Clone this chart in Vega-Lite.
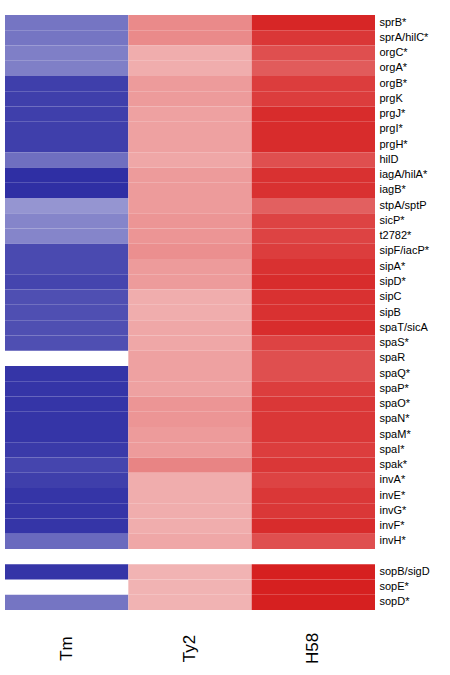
{
  "$schema": "https://vega.github.io/schema/vega-lite/v6.json",
  "width": 370,
  "height": 595,
  "autosize": "none",
  "padding": {"left": 5, "top": 15, "right": 75, "bottom": 65},
  "background": "white",
  "config": {"view": {"stroke": null}},
  "data": {
    "values": [
      {"gene": "sprB*", "Tm": -2.6, "Ty2": 2.0, "H58": 3.7},
      {"gene": "sprA/hilC*", "Tm": -2.6, "Ty2": 2.0, "H58": 3.4},
      {"gene": "orgC*", "Tm": -2.4, "Ty2": 1.4, "H58": 3.0},
      {"gene": "orgA*", "Tm": -2.4, "Ty2": 1.4, "H58": 2.8},
      {"gene": "orgB*", "Tm": -3.6, "Ty2": 1.7, "H58": 3.3},
      {"gene": "prgK", "Tm": -3.6, "Ty2": 1.7, "H58": 3.3},
      {"gene": "prgJ*", "Tm": -3.6, "Ty2": 1.6, "H58": 3.6},
      {"gene": "prgI*", "Tm": -3.6, "Ty2": 1.6, "H58": 3.6},
      {"gene": "prgH*", "Tm": -3.6, "Ty2": 1.6, "H58": 3.6},
      {"gene": "hilD", "Tm": -2.7, "Ty2": 1.5, "H58": 3.0},
      {"gene": "iagA/hilA*", "Tm": -3.9, "Ty2": 1.7, "H58": 3.5},
      {"gene": "iagB*", "Tm": -3.9, "Ty2": 1.7, "H58": 3.5},
      {"gene": "stpA/sptP", "Tm": -2.0, "Ty2": 1.7, "H58": 2.7},
      {"gene": "sicP*", "Tm": -2.3, "Ty2": 1.8, "H58": 3.2},
      {"gene": "t2782*", "Tm": -2.3, "Ty2": 1.8, "H58": 3.2},
      {"gene": "sipF/iacP*", "Tm": -3.4, "Ty2": 1.9, "H58": 3.3},
      {"gene": "sipA*", "Tm": -3.4, "Ty2": 1.7, "H58": 3.5},
      {"gene": "sipD*", "Tm": -3.5, "Ty2": 1.7, "H58": 3.6},
      {"gene": "sipC", "Tm": -3.3, "Ty2": 1.4, "H58": 3.5},
      {"gene": "sipB", "Tm": -3.3, "Ty2": 1.4, "H58": 3.5},
      {"gene": "spaT/sicA", "Tm": -3.3, "Ty2": 1.5, "H58": 3.6},
      {"gene": "spaS*", "Tm": -3.3, "Ty2": 1.5, "H58": 3.2},
      {"gene": "spaR", "Tm": null, "Ty2": 1.6, "H58": 3.0},
      {"gene": "spaQ*", "Tm": -3.8, "Ty2": 1.6, "H58": 3.0},
      {"gene": "spaP*", "Tm": -3.8, "Ty2": 1.6, "H58": 3.3},
      {"gene": "spaO*", "Tm": -3.8, "Ty2": 1.8, "H58": 3.4},
      {"gene": "spaN*", "Tm": -3.8, "Ty2": 1.8, "H58": 3.4},
      {"gene": "spaM*", "Tm": -3.8, "Ty2": 1.7, "H58": 3.4},
      {"gene": "spaI*", "Tm": -3.7, "Ty2": 1.7, "H58": 3.3},
      {"gene": "spak*", "Tm": -3.5, "Ty2": 2.1, "H58": 3.4},
      {"gene": "invA*", "Tm": -3.6, "Ty2": 1.4, "H58": 3.2},
      {"gene": "invE*", "Tm": -3.8, "Ty2": 1.4, "H58": 3.4},
      {"gene": "invG*", "Tm": -3.8, "Ty2": 1.4, "H58": 3.4},
      {"gene": "invF*", "Tm": -3.8, "Ty2": 1.4, "H58": 3.6},
      {"gene": "invH*", "Tm": -2.8, "Ty2": 1.5, "H58": 3.0},
      {"gene": "sopB/sigD", "Tm": -3.8, "Ty2": 1.3, "H58": 3.8},
      {"gene": "sopE*", "Tm": null, "Ty2": 1.3, "H58": 3.8},
      {"gene": "sopD*", "Tm": -2.6, "Ty2": 1.3, "H58": 3.8}
    ]
  },
  "transform": [
    {"fold": ["Tm", "Ty2", "H58"], "as": ["strain", "value"]},
    {"filter": "isValid(datum.value)"}
  ],
  "mark": {"type": "rect", "strokeWidth": 0, "stroke": null},
  "encoding": {
    "x": {
      "field": "strain",
      "type": "nominal",
      "sort": ["Tm", "Ty2", "H58"],
      "scale": {"paddingInner": 0, "paddingOuter": 0},
      "axis": {"title": null, "ticks": false, "domain": false, "labelAngle": -90, "labelFontSize": 17, "labelFont": "Liberation Sans", "labelColor": "black", "labelPadding": 38, "labelAlign": "center", "labelBaseline": "middle"}
    },
    "y": {
      "field": "gene",
      "type": "nominal",
      "scale": {
        "paddingInner": 0, "paddingOuter": 0,
        "domain": ["sprB*", "sprA/hilC*", "orgC*", "orgA*", "orgB*", "prgK", "prgJ*", "prgI*", "prgH*", "hilD", "iagA/hilA*", "iagB*", "stpA/sptP", "sicP*", "t2782*", "sipF/iacP*", "sipA*", "sipD*", "sipC", "sipB", "spaT/sicA", "spaS*", "spaR", "spaQ*", "spaP*", "spaO*", "spaN*", "spaM*", "spaI*", "spak*", "invA*", "invE*", "invG*", "invF*", "invH*", "_", "sopB/sigD", "sopE*", "sopD*"]
      },
      "axis": {"title": null, "orient": "right", "ticks": false, "domain": false, "labelFontSize": 11, "labelFont": "Liberation Sans", "labelColor": "black", "labelPadding": 4, "labelExpr": "datum.label == '_' ? '' : datum.label"}
    },
    "color": {
      "field": "value",
      "type": "quantitative",
      "scale": {"domain": [-4, 0, 4], "range": ["#2a2aa2", "#ffffff", "#d41414"], "interpolate": "rgb"},
      "legend": null
    }
  }
}
